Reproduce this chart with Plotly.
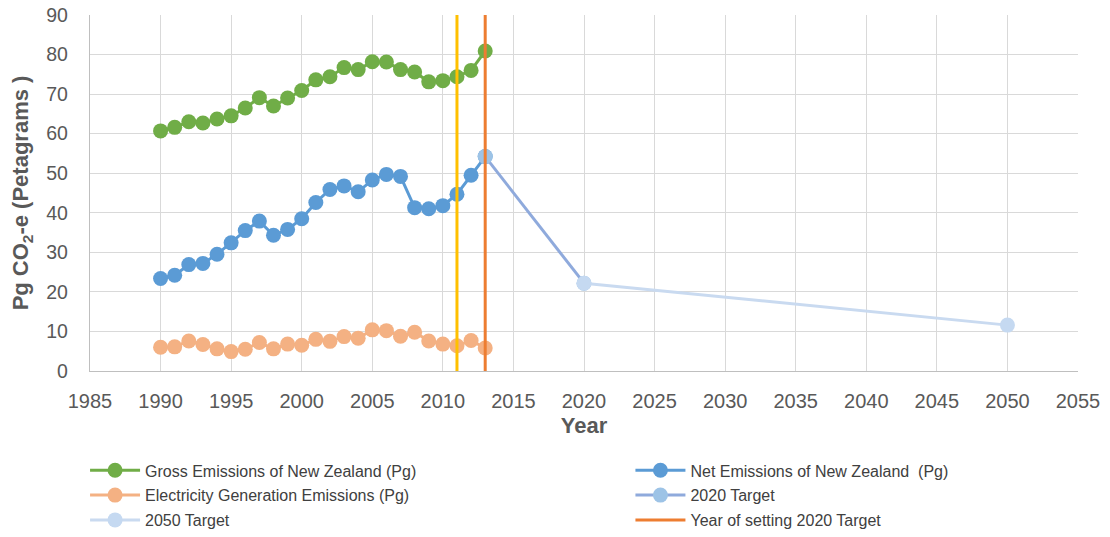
import plotly.graph_objects as go

years = list(range(1990, 2014))
gross = [60.7, 61.6, 63.0, 62.7, 63.7, 64.5, 66.5, 69.1, 67.0, 69.0, 70.9, 73.6,
         74.4, 76.7, 76.2, 78.2, 78.1, 76.2, 75.6, 73.1, 73.4, 74.4, 76.0, 80.9]
net = [23.4, 24.2, 26.9, 27.2, 29.5, 32.4, 35.5, 37.9, 34.3, 35.8, 38.5, 42.6,
       45.9, 46.8, 45.3, 48.3, 49.7, 49.2, 41.3, 41.0, 41.8, 44.7, 49.5, 54.2]
elec = [6.0, 6.1, 7.6, 6.7, 5.6, 4.9, 5.5, 7.2, 5.6, 6.8, 6.5, 8.0,
        7.5, 8.7, 8.3, 10.4, 10.2, 8.8, 9.8, 7.6, 6.8, 6.4, 7.7, 5.8]
t2020_x = [2013, 2020]
t2020_y = [54.2, 22.2]
t2050_x = [2020, 2050]
t2050_y = [22.2, 11.6]
setting_year = 2013
other_year = 2011
y_span = [0, 90]

FONT = "Liberation Sans"
fig = go.Figure()

def add(name, x, y, lc, mc, legend):
    fig.add_trace(go.Scatter(x=x, y=y, name=name, mode="lines+markers",
                             line=dict(color=lc, width=3),
                             marker=dict(color=mc, size=15),
                             legend=legend, legendgroup=name))

add("Gross Emissions of New Zealand (Pg)", years, gross, "#70AD47", "#70AD47", "legend")
add("Net Emissions of New Zealand  (Pg)", years, net, "#5B9BD5", "#5B9BD5", "legend2")
add("Electricity Generation Emissions (Pg)", years, elec, "#F4B183", "#F4B183", "legend")
add("2020 Target", t2020_x, t2020_y, "#8FAADC", "#9DC3E6", "legend2")
add("2050 Target", t2050_x, t2050_y, "#C9DAF0", "#C5D9F1", "legend")
fig.add_trace(go.Scatter(x=[setting_year, setting_year], y=y_span, mode="lines",
                         name="Year of setting 2020 Target", legend="legend2",
                         legendgroup="setting",
                         line=dict(color="#ED7D31", width=3)))
fig.add_trace(go.Scatter(x=[other_year, other_year], y=y_span, mode="lines",
                         showlegend=False, line=dict(color="#FFC000", width=3)))

leg_common = dict(orientation="v", yref="container", y=0.158, yanchor="top",
                  xanchor="left", itemwidth=50, tracegroupgap=1,
                  font=dict(size=16, color="#404040"), bgcolor="rgba(0,0,0,0)")

# page body adds an 8px offset, so the figure is 8px smaller and shifted
fig.update_layout(
    width=1102, height=529,
    margin=dict(l=82, r=32, t=7, b=166, autoexpand=False),
    paper_bgcolor="white", plot_bgcolor="white",
    font=dict(family=FONT, size=18, color="#595959"),
    xaxis=dict(range=[1985, 2055], dtick=5, tick0=1985, showgrid=True,
               gridcolor="#D9D9D9", gridwidth=1.3, zeroline=False, automargin=False,
               showline=True, linecolor="#BFBFBF", linewidth=1.3, ticklabeloverflow="allow",
               ticks="", ticklabelstandoff=12, tickfont=dict(size=20, color="#595959"),
               title=dict(text="<b>Year</b>", font=dict(size=22, color="#595959"), standoff=6)),
    yaxis=dict(range=[0, 90], dtick=10, showgrid=True, gridcolor="#D9D9D9",
               gridwidth=1.3, zeroline=False, showline=True, linecolor="#BFBFBF",
               linewidth=1.3, ticks="", ticklabelstandoff=17, automargin=False,
               ticklabeloverflow="allow",
               tickfont=dict(size=19.5, color="#595959"),
               title=dict(text="<b>Pg CO<sub>2</sub>-e (Petagrams )</b>",
                          font=dict(size=22, color="#595959"), standoff=11)),
    legend=dict(x=-0.005, **leg_common),
    legend2=dict(x=0.547, **leg_common),
)

fig.write_html("out.html")
